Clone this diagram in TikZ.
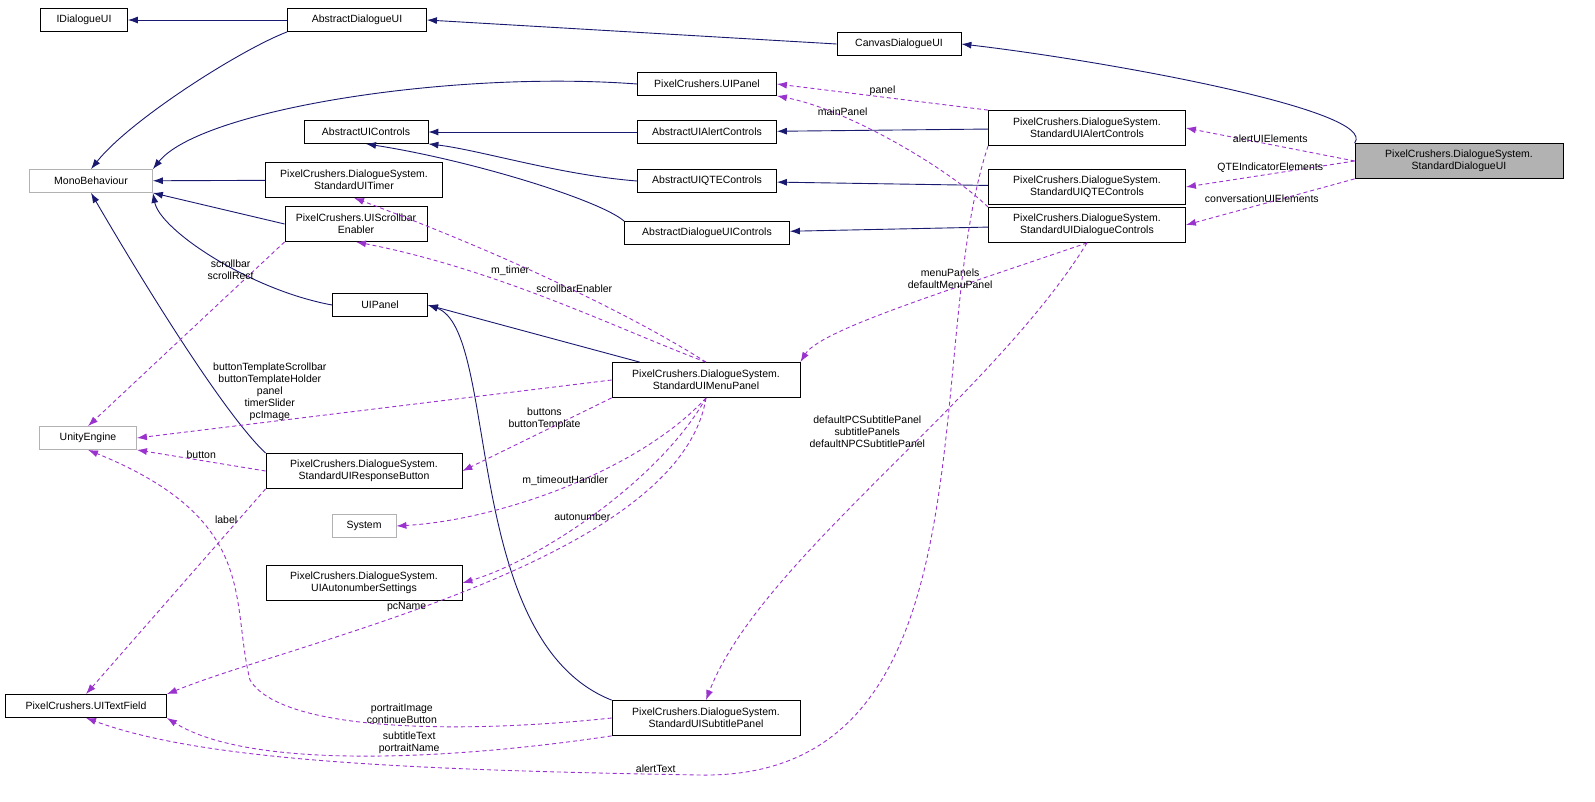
\documentclass[tikz,border=0pt]{standalone}
\usepackage{fontspec}
\setmainfont{Liberation Sans}
\usepackage{xcolor}
\usetikzlibrary{arrows.meta, positioning}
\definecolor{inherit}{RGB}{25, 25, 112}
\definecolor{usage}{RGB}{154, 50, 205}

\tikzset{
  cls/.style={draw=black, fill=white, align=center, font=\fontsize{10.5}{12}\selectfont, inner sep=2pt, minimum height=23pt, line width=0.8pt},
  two/.style={cls, minimum height=35pt},
  ext/.style={cls, draw=black!30},
  cur/.style={two, fill=black!30},
  isa/.style={draw=inherit, line width=0.9pt, -{Latex[length=10pt,width=7pt]}},
  uses/.style={draw=usage, line width=0.9pt, dash pattern=on 4pt off 3pt, -{Latex[length=10pt,width=7pt]}},
  lbl/.style={font=\fontsize{10.5}{12}\selectfont, align=center, inner sep=1pt}
}

\begin{document}
\begin{tikzpicture}[x=1pt, y=-1pt]
    \useasboundingbox (0,0) rectangle (1595,801);

    % The classes
    \node[cls, minimum width=87pt] (idui) at (84,20) {IDialogueUI};
    \node[cls, minimum width=139pt] (adui) at (357,20) {AbstractDialogueUI};
    \node[cls, minimum width=124pt] (cdui) at (899,44) {CanvasDialogueUI};
    \node[cur, minimum width=208pt] (sdui) at (1459,161) {PixelCrushers.DialogueSystem.\\StandardDialogueUI};
    \node[cls, minimum width=139pt] (pcpanel) at (707,84) {PixelCrushers.UIPanel};
    \node[two, minimum width=197pt] (salert) at (1087,128) {PixelCrushers.DialogueSystem.\\StandardUIAlertControls};
    \node[cls, minimum width=124pt] (auic) at (366,132) {AbstractUIControls};
    \node[cls, minimum width=139pt] (aalert) at (707,132) {AbstractUIAlertControls};
    \node[ext, minimum width=123pt] (mono) at (91,181) {MonoBehaviour};
    \node[two, minimum width=177pt] (timer) at (354,180) {PixelCrushers.DialogueSystem.\\StandardUITimer};
    \node[cls, minimum width=139pt] (aqte) at (707,181) {AbstractUIQTEControls};
    \node[two, minimum width=197pt] (sqte) at (1087,187) {PixelCrushers.DialogueSystem.\\StandardUIQTEControls};
    \node[two, minimum width=142pt] (scroll) at (356,224) {PixelCrushers.UIScrollbar\\Enabler};
    \node[cls, minimum width=165pt] (adlg) at (707,233) {AbstractDialogueUIControls};
    \node[two, minimum width=197pt] (sdlg) at (1087,225) {PixelCrushers.DialogueSystem.\\StandardUIDialogueControls};
    \node[cls, minimum width=95pt] (uipanel) at (380,305) {UIPanel};
    \node[ext, minimum width=97pt] (unity) at (88,438) {UnityEngine};
    \node[two, minimum width=188pt] (menu) at (706,380) {PixelCrushers.DialogueSystem.\\StandardUIMenuPanel};
    \node[two, minimum width=196pt] (resp) at (364,471) {PixelCrushers.DialogueSystem.\\StandardUIResponseButton};
    \node[ext, minimum width=64pt] (sys) at (364,526) {System};
    \node[two, minimum width=196pt] (auto) at (364,583) {PixelCrushers.DialogueSystem.\\UIAutonumberSettings};
    \node[cls, minimum width=161pt] (text) at (86,706) {PixelCrushers.UITextField};
    \node[two, minimum width=188pt] (sub) at (706,718) {PixelCrushers.DialogueSystem.\\StandardUISubtitlePanel};

    % Inheritance
    \draw[isa] (adui) -- (idui);
    \draw[isa] (cdui.west) -- (adui.east);
    \draw[isa] (sdui.north west) .. controls (1380,110) and (1100,60) .. (cdui.east);
    \draw[isa] (adui.south west) .. controls (240,50) and (130,120) .. (mono.north);
    \draw[isa] (pcpanel.west) .. controls (450,70) and (200,110) .. (mono.north east);
    \draw[isa] (aalert) -- (auic);
    \draw[isa] (aqte.west) .. controls (560,175) and (480,150) .. (auic.south east);
    \draw[isa] (adlg.north west) .. controls (600,200) and (470,160) .. (auic.south);
    \draw[isa] (salert) -- (aalert);
    \draw[isa] (sqte) -- (aqte);
    \draw[isa] (sdlg) -- (adlg);
    \draw[isa] (timer) -- (mono);
    \draw[isa] (scroll.west) -- (mono.south east);
    \draw[isa] (uipanel.west) .. controls (250,290) and (160,230) .. (mono.south east);
    \draw[isa] (resp.north west) .. controls (220,410) and (130,260) .. (mono.south);
    \draw[isa] (menu) -- (uipanel.east);
    \draw[isa] (sub.north west) .. controls (460,640) and (500,330) .. (uipanel.east);

    % Usage
    \draw[uses] (sdui.west) -- node[lbl, above] {alertUIElements} (salert.east);
    \draw[uses] (sdui.west) -- node[lbl, above] {QTEIndicatorElements} (sqte.east);
    \draw[uses] (sdui.south west) -- node[lbl, above, pos=0.55] {conversationUIElements} (sdlg.east);
    \draw[uses] (salert.north west) -- node[lbl, above] {panel} (pcpanel.east);
    \draw[uses] (sdlg.north west) .. controls (950,170) and (850,110) .. node[lbl, pos=0.72, above] {mainPanel} (pcpanel.south east);
    \draw[uses] (sdlg.south) .. controls (950,290) and (820,330) .. node[lbl, pos=0.35, above] {menuPanels\\defaultMenuPanel} (menu.north east);
    \draw[uses] (sdlg.south) .. controls (990,400) and (760,560) .. node[lbl, pos=0.4, left] {defaultPCSubtitlePanel\\subtitlePanels\\defaultNPCSubtitlePanel} (sub.north);
    \draw[uses] (salert.south west) .. controls (920,350) and (1000,780) .. (700,775) .. controls (400,770) and (200,760) .. node[lbl, pos=0.05, above] {alertText} (text.south);
    \draw[uses] (menu.north) .. controls (640,320) and (520,260) .. node[lbl, pos=0.6, left] {m\_timer} (timer.south);
    \draw[uses] (menu.north) .. controls (620,330) and (500,270) .. node[lbl, pos=0.55, above right] {scrollbarEnabler} (scroll.south);
    \draw[uses] (menu.west) -- node[lbl, pos=0.72, above] {buttonTemplateScrollbar\\buttonTemplateHolder\\panel\\timerSlider\\pcImage} (unity.east);
    \draw[uses] (menu.south west) -- node[lbl, pos=0.45, above] {buttons\\buttonTemplate} (resp.east);
    \draw[uses] (menu.south) .. controls (640,470) and (500,520) .. node[lbl, pos=0.5, above] {m\_timeoutHandler} (sys.east);
    \draw[uses] (menu.south) .. controls (660,480) and (540,560) .. node[lbl, pos=0.55, above] {autonumber} (auto.east);
    \draw[uses] (menu.south) .. controls (680,560) and (300,640) .. node[lbl, pos=0.6, above] {pcName} (text.north east);
    \draw[uses] (scroll.south west) -- node[lbl, pos=0.15, left] {scrollbar\\scrollRect} (unity.north);
    \draw[uses] (resp.west) -- node[lbl, above] {button} (unity.south east);
    \draw[uses] (resp.south west) -- node[lbl, pos=0.15, left] {label} (text.north);
    \draw[uses] (sub.west) .. controls (450,735) and (280,730) .. node[lbl, pos=0.45, above] {portraitImage\\continueButton} (250,680) .. controls (230,600) and (260,520) .. (unity.south);
    \draw[uses] (sub.south west) .. controls (450,760) and (250,770) .. node[lbl, pos=0.4, above] {subtitleText\\portraitName} (text.south east);
\end{tikzpicture}
\end{document}
